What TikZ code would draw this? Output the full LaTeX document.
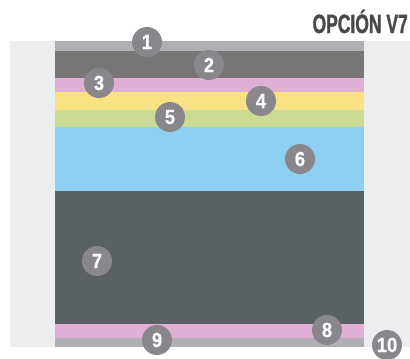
\documentclass[tikz,border=0pt]{standalone}
\usepackage{fontspec}
\setmainfont{Liberation Sans}
\newfontfamily\condfont[FakeStretch=0.66,FakeBold=1.2]{Liberation Sans Bold}
\newfontfamily\digitfont[FakeStretch=0.9,FakeBold=0.6]{Liberation Sans Bold}
\definecolor{bgl}{HTML}{ECEDEF}
\definecolor{lgrey}{HTML}{B0AFB4}
\definecolor{dgrey}{HTML}{787674}
\definecolor{lpink}{HTML}{E0B0D4}
\definecolor{lyellow}{HTML}{F8E283}
\definecolor{lgreen}{HTML}{CCDB94}
\definecolor{lblue}{HTML}{8DCFF0}
\definecolor{slate}{HTML}{5A6164}
\definecolor{badge}{HTML}{8A878C}
\definecolor{titlec}{HTML}{4A4A4A}
\tikzset{
  layer/.style={fill=#1, draw=none},
  badgenode/.style={circle, fill=badge, draw=none, minimum size=30pt, inner sep=0pt,
    text=white, font=\digitfont\fontsize{20.5}{20.5}\selectfont},
}
\begin{document}
\begin{tikzpicture}[x=1pt,y=-1pt]
\useasboundingbox (0,0) rectangle (410,359);
\fill[white] (0,0) rectangle (410,359);
\fill[bgl] (10,41) rectangle (410,347);
\fill[layer=lgrey] (55,41) rectangle (364,51);
\fill[layer=dgrey] (55,51) rectangle (364,78);
\fill[layer=lpink] (55,78) rectangle (364,92);
\fill[layer=lyellow] (55,92) rectangle (364,110);
\fill[layer=lgreen] (55,110) rectangle (364,127);
\fill[layer=lblue] (55,127) rectangle (364,191);
\fill[layer=slate] (55,191) rectangle (364,324);
\fill[layer=lpink] (55,324) rectangle (364,338);
\fill[layer=lgrey] (55,338) rectangle (364,347);
\node[anchor=base east, text=titlec, inner sep=0pt, font=\condfont\fontsize{26.5}{27}\selectfont] (title) at (408,33) {OPCIÓN V7};
\node[badgenode] (c1) at (147,42) {1};
\node[badgenode] (c2) at (209,65) {2};
\node[badgenode] (c3) at (99,83) {3};
\node[badgenode] (c4) at (261,101) {4};
\node[badgenode] (c5) at (170,117) {5};
\node[badgenode] (c6) at (300,159) {6};
\node[badgenode] (c7) at (97,261) {7};
\node[badgenode] (c8) at (327,330) {8};
\node[badgenode] (c9) at (157,340) {9};
\node[badgenode] (c10) at (387,345) {10};
\end{tikzpicture}
\end{document}
